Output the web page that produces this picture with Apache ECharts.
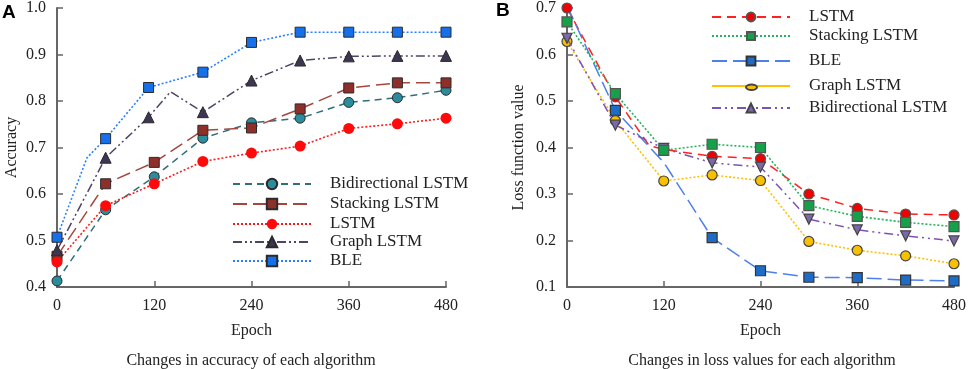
<!DOCTYPE html>
<html>
<head>
<meta charset="utf-8">
<script src="https://cdn.jsdelivr.net/npm/echarts@6/dist/echarts.min.js"></script>
<style>html,body{margin:0;padding:0;background:#fff}#c{width:969px;height:369px}</style>
</head>
<body>
<div id="c"></div>
<script>
// ---- data (epoch, value); a 3rd entry marks a point drawn without a marker ----
var xTicks = [0, 120, 240, 360, 480];

// Chart A: accuracy
var accBidir   = [[0,0.413],[60,0.566],[120,0.637],[180,0.720],[240,0.753],[300,0.763],[360,0.797],[420,0.807],[480,0.823]];
var accStack   = [[0,0.466],[60,0.622],[120,0.668],[180,0.737],[240,0.742],[300,0.783],[360,0.828],[420,0.839],[480,0.839]];
var accLSTM    = [[0,0.454],[60,0.575],[120,0.622],[180,0.670],[240,0.688],[300,0.703],[360,0.741],[420,0.751],[480,0.763]];
var accGraph   = [[0,0.479],[60,0.678],[113,0.765],[140,0.820,0],[180,0.776],[240,0.844],[300,0.887],[360,0.896],[420,0.897],[480,0.897]];
var accBLE     = [[0,0.507],[37,0.678,0],[60,0.719],[113,0.829],[180,0.862],[240,0.926],[300,0.948],[360,0.948],[420,0.948],[480,0.948]];

// Chart B: loss
var lossLSTM   = [[0,0.700],[60,0.509],[102,0.404,0],[120,0.396],[180,0.381],[240,0.376],[300,0.300],[360,0.269],[420,0.257],[480,0.255]];
var lossStack  = [[0,0.670],[60,0.516],[120,0.394],[180,0.407],[240,0.400],[300,0.275],[360,0.252],[420,0.239],[480,0.230]];
var lossBLE    = [[0,0.705],[60,0.480],[120,0.368,0],[180,0.206],[240,0.135],[300,0.121],[360,0.120],[420,0.115],[480,0.113]];
var lossGraph  = [[0,0.628],[60,0.458],[120,0.328],[180,0.341],[240,0.329],[300,0.198],[360,0.179],[420,0.167],[480,0.150]];
var lossBidir  = [[0,0.635],[60,0.448],[120,0.398],[180,0.367],[240,0.358],[300,0.246],[360,0.223],[420,0.210],[480,0.199]];

var FONT = 'Liberation Serif';

function pts(arr, extra) {
  return arr.map(function (p) {
    var o = { value: [p[0], p[1]] };
    if (p.length > 2) { o.symbol = 'none'; }
    else if (extra) { for (var k in extra) o[k] = extra[k]; }
    return o;
  });
}

function xAxisDef(gi) {
  return {
    type: 'value', gridIndex: gi, min: 0, max: 480, interval: 120,
    name: 'Epoch', nameLocation: 'middle', nameGap: 36,
    nameTextStyle: { fontFamily: FONT, fontSize: 16, color: '#222' },
    axisLine: { lineStyle: { color: '#666', width: 2 } },
    axisTick: { inside: true, length: 6, lineStyle: { color: '#666', width: 1.5 } },
    axisLabel: { fontFamily: FONT, fontSize: 16, color: '#222', margin: 11 },
    splitLine: { show: false }
  };
}
function yAxisDef(gi, min, max, name, gap) {
  return {
    type: 'value', gridIndex: gi, min: min, max: max, interval: 0.1,
    name: name, nameLocation: 'middle', nameGap: gap,
    nameTextStyle: { fontFamily: FONT, fontSize: 16, color: '#222' },
    axisLine: { show: true, lineStyle: { color: '#666', width: 2 } },
    axisTick: { show: true, inside: true, length: 6, lineStyle: { color: '#666', width: 1.5 } },
    axisLabel: { fontFamily: FONT, fontSize: 16, color: '#222', margin: 11,
      formatter: function (v) { return v.toFixed(1); } },
    splitLine: { show: false }
  };
}

function ser(name, gi, data, color, dash, width, sym, size, fill, border, bw, z) {
  return {
    name: name, type: 'line', xAxisIndex: gi, yAxisIndex: gi,
    data: data, symbol: sym, symbolSize: size, showSymbol: true,
    lineStyle: { color: color, type: dash, width: width },
    itemStyle: { color: fill, borderColor: border, borderWidth: bw },
    z: z || 2, animation: false
  };
}

var ellipse = 'path://M0,5A10,5 0 1,1 20,5A10,5 0 1,1 0,5Z';

var series = [
  ser('Bidirectional LSTM', 0, pts(accBidir), '#2f6f7a', [7,5], 1.5, 'circle', 10, '#2a8c9c', '#2b2b2b', 1),
  ser('Stacking LSTM', 0, pts(accStack), '#a5473f', [14,6], 1.5, 'rect', 10, '#8e2f29', '#2b2b2b', 1),
  ser('LSTM', 0, pts(accLSTM), '#ff1a1a', [2,2], 1.6, 'circle', 11, '#ff0a0a', '#ff0a0a', 0),
  ser('Graph LSTM', 0, pts(accGraph), '#4f4466', [9,3,2,3,2,3], 1.5, 'triangle', 11, '#3d3552', '#2b2b2b', 1),
  ser('BLE', 0, pts(accBLE), '#2a7fff', [2,2], 1.6, 'rect', 10, '#1670ea', '#2b2b2b', 1),

  ser('LSTM ', 1, pts(lossLSTM), '#ff2020', [9,6], 1.5, 'circle', 10, '#f00000', '#555', 1.2, 2),
  ser('Stacking LSTM ', 1, pts(lossStack), '#22b35a', [2,2], 1.6, 'rect', 10, '#16a04a', '#555', 1.2, 4),
  ser('BLE ', 1, pts(lossBLE), '#4d80ea', [15,6], 1.5, 'rect', 10, '#1e6cc8', '#333', 1.2, 2),
  ser('Graph LSTM ', 1, pts(lossGraph), '#ffc000', [2,2], 1.6, 'circle', 10, '#f7c000', '#444', 1.2, 2),
  ser('Bidirectional LSTM ', 1, pts(lossBidir, { symbolRotate: 180 }), '#7b52b8', [9,4,2,4,2,4], 1.5, 'triangle', 10, '#7a68a8', '#444', 1.2, 3)
];

function leg(name, left, cy, ih, extra) {
  var l = {
    left: left, top: cy - 9, itemWidth: 78, itemHeight: ih, selectedMode: false,
    padding: 0,
    textStyle: { fontFamily: FONT, fontSize: 17, color: '#222', lineHeight: 18, padding: [0,0,0,14] },
    data: [name]
  };
  if (extra) l.data = [Object.assign({ name: name }, extra)];
  return l;
}

var legends = [
  leg('Bidirectional LSTM', 232, 184, 13),
  leg('Stacking LSTM', 232, 204, 13),
  leg('LSTM', 232, 224, 13),
  leg('Graph LSTM', 232, 242, 13),
  leg('BLE', 232, 261, 13),
  leg('LSTM ', 711, 17, 11),
  leg('Stacking LSTM ', 711, 36, 10),
  leg('BLE ', 711, 61, 11),
  leg('Graph LSTM ', 711, 86, 12, { lineStyle: { type: 'solid' }, itemStyle: { color: 'rgba(0,0,0,0)', borderWidth: 0 } }),
  leg('Bidirectional LSTM ', 711, 108, 11),
  // ellipse marker drawn over the Graph LSTM legend line
  {
    left: 745, top: 83.5, itemWidth: 11, itemHeight: 5.5, selectedMode: false, padding: 0,
    formatter: function () { return ''; },
    textStyle: { fontSize: 5, lineHeight: 5, padding: 0 },
    data: [{ name: 'Graph LSTM ', icon: ellipse }]
  }
];

var chart = echarts.init(document.getElementById('c'), null, { renderer: 'canvas' });
chart.setOption({
  animation: false,
  backgroundColor: '#fff',
  grid: [
    { left: 57, top: 6, width: 389, height: 281 },
    { left: 567, top: 5, width: 390, height: 282 }
  ],
  xAxis: [xAxisDef(0), xAxisDef(1)],
  yAxis: [yAxisDef(0, 0.4, 1.0, 'Accuracy', 37), yAxisDef(1, 0.1, 0.7, 'Loss function value', 40)],
  legend: legends,
  series: series,
  graphic: [
    { type: 'text', x: 2, y: 3, style: { text: 'A', font: 'bold 19px "Liberation Sans"', fill: '#000' } },
    { type: 'text', x: 496, y: 1, style: { text: 'B', font: 'bold 19px "Liberation Sans"', fill: '#000' } },
    { type: 'text', x: 251, y: 361, style: { text: 'Changes in accuracy of each algorithm', font: '16px "Liberation Serif"', fill: '#222', align: 'center', verticalAlign: 'middle' } },
    { type: 'text', x: 762, y: 361, style: { text: 'Changes in loss values for each algorithm', font: '16px "Liberation Serif"', fill: '#222', align: 'center', verticalAlign: 'middle' } }
  ]
});
</script>
</body>
</html>
